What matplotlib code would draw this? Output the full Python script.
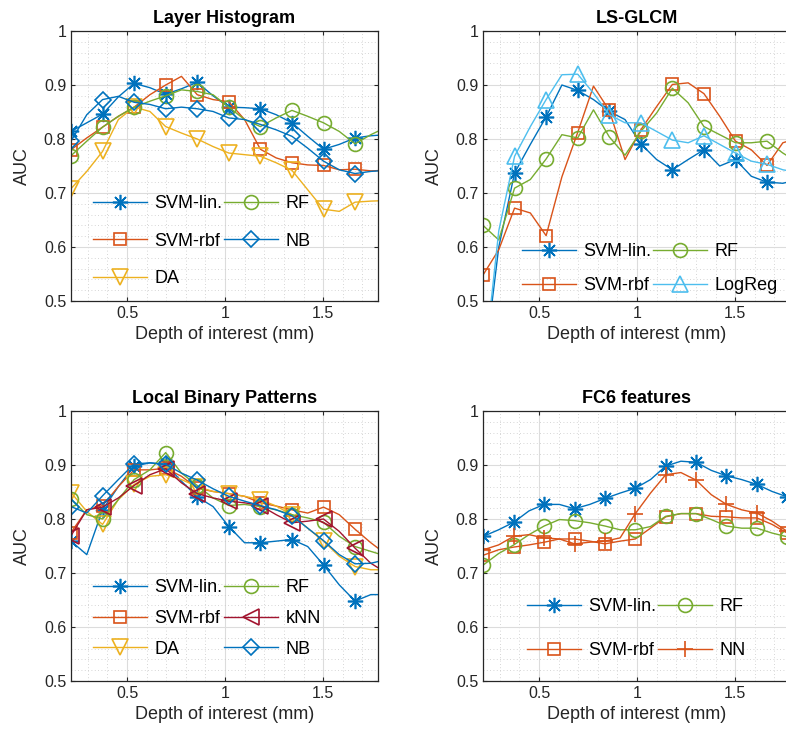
#!/usr/bin/env python3
# AUC vs depth of interest, four feature sets
import numpy as np
import matplotlib
matplotlib.use("Agg")
import matplotlib.pyplot as plt
from matplotlib.ticker import MultipleLocator

plt.rcParams['font.family'] = ['Liberation Sans', 'DejaVu Sans']

# sampling grids (mm)
depth_a = np.round(0.214 + 0.0805 * np.arange(21), 4)
depth_b = np.round(0.216 + 0.0775 * np.arange(21), 4)

# --- Layer Histogram
lh_svm_lin = [0.814, 0.830, 0.846, 0.878, 0.903, 0.895, 0.883, 0.893, 0.905, 0.880, 0.859,
              0.858, 0.856, 0.845, 0.830, 0.805, 0.781, 0.790, 0.802, 0.806, 0.808]
lh_svm_rbf = [0.780, 0.802, 0.822, 0.842, 0.859, 0.882, 0.900, 0.916, 0.882, 0.873, 0.869,
              0.836, 0.781, 0.765, 0.756, 0.752, 0.751, 0.743, 0.744, 0.741, 0.742]
lh_da = [0.708, 0.740, 0.777, 0.836, 0.859, 0.851, 0.823, 0.811, 0.800, 0.786, 0.774,
         0.771, 0.768, 0.756, 0.742, 0.706, 0.670, 0.666, 0.683, 0.685, 0.686]
lh_rf = [0.769, 0.796, 0.822, 0.842, 0.859, 0.870, 0.880, 0.891, 0.888, 0.882, 0.859,
         0.836, 0.823, 0.839, 0.853, 0.842, 0.830, 0.814, 0.791, 0.808, 0.822]
lh_nb = [0.796, 0.845, 0.873, 0.879, 0.868, 0.864, 0.856, 0.859, 0.856, 0.851, 0.839,
         0.836, 0.827, 0.817, 0.805, 0.783, 0.759, 0.743, 0.736, 0.740, 0.742]

# --- LS-GLCM
gl_svm_lin = [0.360, 0.600, 0.737, 0.790, 0.841, 0.900, 0.890, 0.873, 0.851, 0.836, 0.791,
              0.762, 0.743, 0.762, 0.780, 0.750, 0.762, 0.731, 0.720, 0.718, 0.725]
gl_svm_rbf = [0.548, 0.595, 0.672, 0.663, 0.621, 0.730, 0.812, 0.898, 0.853, 0.762, 0.817,
              0.860, 0.901, 0.904, 0.884, 0.842, 0.796, 0.780, 0.751, 0.793, 0.802]
gl_rf = [0.640, 0.613, 0.709, 0.725, 0.763, 0.808, 0.802, 0.854, 0.804, 0.770, 0.814,
         0.848, 0.894, 0.867, 0.823, 0.808, 0.793, 0.793, 0.796, 0.774, 0.756]
gl_logreg = [0.360, 0.630, 0.768, 0.823, 0.873, 0.919, 0.920, 0.885, 0.845, 0.830, 0.830,
             0.814, 0.798, 0.793, 0.806, 0.790, 0.774, 0.759, 0.753, 0.743, 0.738]

# --- Local Binary Patterns
lbp_svm_lin = [0.759, 0.734, 0.817, 0.860, 0.898, 0.904, 0.901, 0.870, 0.841, 0.823, 0.786,
               0.756, 0.756, 0.759, 0.762, 0.749, 0.715, 0.678, 0.648, 0.660, 0.660]
lbp_svm_rbf = [0.775, 0.817, 0.825, 0.860, 0.891, 0.891, 0.894, 0.879, 0.857, 0.851, 0.847,
               0.842, 0.830, 0.824, 0.817, 0.811, 0.822, 0.808, 0.781, 0.756, 0.734]
lbp_da = [0.849, 0.814, 0.790, 0.836, 0.864, 0.879, 0.882, 0.873, 0.860, 0.851, 0.847,
          0.842, 0.836, 0.824, 0.808, 0.783, 0.759, 0.731, 0.712, 0.706, 0.706]
lbp_rf = [0.837, 0.808, 0.800, 0.836, 0.873, 0.891, 0.923, 0.885, 0.862, 0.839, 0.825,
          0.827, 0.823, 0.817, 0.808, 0.802, 0.794, 0.768, 0.749, 0.740, 0.731]
lbp_knn = [0.769, 0.817, 0.822, 0.839, 0.862, 0.882, 0.893, 0.867, 0.847, 0.839, 0.833,
           0.830, 0.825, 0.808, 0.793, 0.796, 0.800, 0.777, 0.746, 0.718, 0.700]
lbp_nb = [0.823, 0.811, 0.843, 0.873, 0.902, 0.904, 0.901, 0.885, 0.872, 0.856, 0.842,
          0.833, 0.825, 0.817, 0.806, 0.783, 0.760, 0.734, 0.717, 0.718, 0.725]

# --- FC6 features
fc_svm_lin = [0.768, 0.780, 0.794, 0.815, 0.827, 0.827, 0.819, 0.827, 0.838, 0.848, 0.857,
              0.873, 0.898, 0.907, 0.905, 0.890, 0.880, 0.873, 0.864, 0.851, 0.841]
fc_svm_rbf = [0.733, 0.743, 0.748, 0.752, 0.757, 0.763, 0.763, 0.759, 0.754, 0.759, 0.763,
              0.783, 0.804, 0.810, 0.810, 0.805, 0.804, 0.802, 0.802, 0.790, 0.774]
fc_rf = [0.715, 0.736, 0.752, 0.771, 0.787, 0.799, 0.797, 0.793, 0.787, 0.780, 0.780,
         0.786, 0.805, 0.810, 0.810, 0.799, 0.787, 0.783, 0.783, 0.774, 0.767]
fc_nn = [0.743, 0.752, 0.768, 0.771, 0.765, 0.763, 0.754, 0.757, 0.759, 0.765, 0.810,
         0.848, 0.882, 0.886, 0.872, 0.845, 0.827, 0.817, 0.811, 0.796, 0.777]

BLUE = '#0072BD'
ORANGE = '#D95319'
YELLOW = '#EDB120'
GREEN = '#77AC30'
DRED = '#A2142F'
LBLUE = '#4DBEEE'
ASTER = (8, 2, 0)   # matlab-like '*'

style = {
    'SVM-lin.': dict(color=BLUE, marker=ASTER, ms=11),
    'SVM-rbf': dict(color=ORANGE, marker='s', ms=9),
    'DA': dict(color=YELLOW, marker='v', ms=11),
    'RF': dict(color=GREEN, marker='o', ms=10),
    'NB': dict(color=BLUE, marker='D', ms=8),
    'kNN': dict(color=DRED, marker='<', ms=11),
    'LogReg': dict(color=LBLUE, marker='^', ms=11),
    'NN': dict(color=ORANGE, marker='+', ms=11),
}


def panel(ax, title, depth, series, leg_xy, lspace):
    for name, vals in series:
        st = style[name]
        ax.plot(depth, vals, color=st['color'], lw=1.0, marker=st['marker'],
                ms=st['ms'], mfc='none', mew=1.2, markevery=2, label=name)
    ax.set_xlim(0.214, 1.78)
    ax.set_ylim(0.5, 1.0)
    ax.xaxis.set_major_locator(MultipleLocator(0.5))
    ax.xaxis.set_minor_locator(MultipleLocator(0.1))
    ax.yaxis.set_major_locator(MultipleLocator(0.1))
    ax.yaxis.set_minor_locator(MultipleLocator(0.02))
    ax.set_xticks([0.5, 1.0, 1.5])
    ax.set_xticklabels(['0.5', '1', '1.5'])
    ax.set_yticks([0.5, 0.6, 0.7, 0.8, 0.9, 1.0])
    ax.set_yticklabels(['0.5', '0.6', '0.7', '0.8', '0.9', '1'])
    ax.grid(True, which='major', color='#dcdcdc', lw=0.8)
    ax.grid(True, which='minor', color='#c8c8c8', lw=0.6, ls=(0, (1, 3)))
    ax.set_axisbelow(True)
    ax.tick_params(which='both', direction='in', top=True, right=True,
                   labelsize=11.5, colors='#262626', length=3)
    ax.tick_params(which='minor', length=0)
    for s in ax.spines.values():
        s.set_color('#262626')
        s.set_linewidth(0.9)
    ax.set_title(title, fontsize=13, fontweight='bold', pad=6)
    ax.set_xlabel('Depth of interest (mm)', fontsize=13, color='#262626')
    ax.set_ylabel('AUC', fontsize=13, color='#262626', labelpad=9)
    ax.legend(loc='upper left', bbox_to_anchor=leg_xy, ncol=2, frameon=False,
              fontsize=13, handlelength=3.0, handletextpad=0.4, columnspacing=0.1,
              labelspacing=lspace, borderpad=0, borderaxespad=0)


fig = plt.figure(figsize=(7.86, 7.46), dpi=100)
W = 307 / 786
H = 270 / 746
ax1 = fig.add_axes([71 / 786, 1 - 301 / 746, W, H])
ax2 = fig.add_axes([483 / 786, 1 - 301 / 746, W, H])
ax3 = fig.add_axes([71 / 786, 1 - 681 / 746, W, H])
ax4 = fig.add_axes([483 / 786, 1 - 681 / 746, W, H])

panel(ax1, 'Layer Histogram', depth_a,
      [('SVM-lin.', lh_svm_lin), ('SVM-rbf', lh_svm_rbf), ('DA', lh_da),
       ('RF', lh_rf), ('NB', lh_nb)], (0.072, 0.393), 1.15)
panel(ax2, 'LS-GLCM', depth_a,
      [('SVM-lin.', gl_svm_lin), ('SVM-rbf', gl_svm_rbf),
       ('RF', gl_rf), ('LogReg', gl_logreg)], (0.127, 0.215), 0.97)
panel(ax3, 'Local Binary Patterns', depth_a,
      [('SVM-lin.', lbp_svm_lin), ('SVM-rbf', lbp_svm_rbf), ('DA', lbp_da),
       ('RF', lbp_rf), ('kNN', lbp_knn), ('NB', lbp_nb)], (0.072, 0.378), 0.77)
panel(ax4, 'FC6 features', depth_b,
      [('SVM-lin.', fc_svm_lin), ('SVM-rbf', fc_svm_rbf),
       ('RF', fc_rf), ('NN', fc_nn)], (0.143, 0.308), 1.5)

fig.savefig('out.png', dpi=100)
